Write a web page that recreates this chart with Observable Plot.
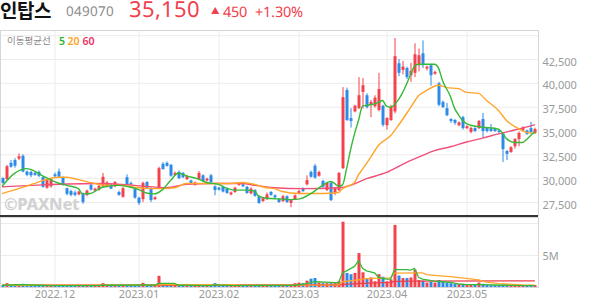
<!DOCTYPE html>
<html><head><meta charset="utf-8">
<script src="https://cdn.jsdelivr.net/npm/d3@7"></script>
<script src="https://cdn.jsdelivr.net/npm/@observablehq/plot@0.6"></script>
<style>
@font-face{font-family:"HdrSans";src:local("Noto Sans Regular"),local("NotoSans-Regular"),local("Noto Sans");ascent-override:78%;descent-override:22%;line-gap-override:0%;}
@font-face{font-family:"HdrKR";src:local("Noto Sans CJK KR Bold"),local("NotoSansCJKkr-Bold"),local("Noto Sans CJK KR");font-weight:700;ascent-override:88%;descent-override:12%;line-gap-override:0%;}
body{margin:0;background:#fff;font-family:"Noto Sans","Noto Sans CJK KR",sans-serif;}
#wrap{position:relative;width:594px;height:304px;overflow:hidden;background:#fff;}
.a{position:absolute;white-space:nowrap;line-height:1;}
.h{font-family:"HdrSans","Noto Sans",sans-serif;}
</style></head><body>
<div id="wrap">
  <div class="a" style="left:0;top:1.1px;font-size:19px;font-weight:700;color:#111;font-family:'HdrKR','Noto Sans CJK KR';">인탑스</div>
  <div class="a h" style="left:66px;top:6.2px;font-size:13.5px;color:#8c8c8c;">049070</div>
  <div class="a h" style="left:129px;top:0.2px;font-size:22px;color:#f0424c;">35,150</div>
  <div class="a" style="left:211px;top:7px;font-size:8.5px;color:#f0424c;">▲</div>
  <div class="a h" style="left:223px;top:5.7px;font-size:14.5px;color:#f0424c;">450</div>
  <div class="a h" style="left:255px;top:5.7px;font-size:14.5px;color:#f0424c;">+1.30%</div>
  <div id="price" style="position:absolute;left:0;top:30px;"></div>
  <div id="vol" style="position:absolute;left:0;top:217px;"></div>
  <div style="position:absolute;left:0;top:215px;width:538px;height:2px;background:#333;"></div>
  <div class="a" style="left:7px;top:36px;font-size:9.5px;color:#888;font-family:'Noto Sans CJK KR';">이동평균선</div>
  <div class="a" style="left:59px;top:35.5px;font-size:10.5px;font-weight:600;color:#2fb52f;">5</div>
  <div class="a" style="left:67.5px;top:35.5px;font-size:10.5px;font-weight:600;color:#ffa224;">20</div>
  <div class="a" style="left:82.5px;top:35.5px;font-size:10.5px;font-weight:600;color:#ee2f62;">60</div>
  <div class="a" style="left:4px;top:196px;font-size:16.5px;font-weight:800;color:#d2d2d2;letter-spacing:-0.3px;">©PAXNet</div>
</div>
<script>
// ---- trading days (KRX), by month ----
const monthKeys = ["2022-11","2022-12","2023-01","2023-02","2023-03","2023-04","2023-05"];
const nov22 = [14,15,16,17,18,21,22,23,24,25,28,29,30];
const dec22 = [1,2,5,6,7,8,9,12,13,14,15,16,19,20,21,22,23,26,27,28,29];
const jan23 = [2,3,4,5,6,9,10,11,12,13,16,17,18,19,20,25,26,27,30,31];
const feb23 = [1,2,3,6,7,8,9,10,13,14,15,16,17,20,21,22,23,24,27,28];
const mar23 = [2,3,6,7,8,9,10,13,14,15,16,17,20,21,22,23,24,27,28,29,30,31];
const apr23 = [3,4,5,6,7,10,11,12,13,14,17,18,19,20,21,24,25,26,27,28];
const may23 = [2,3,4,8,9,10,11,12,15,16,17,18,19,22,23,24,25,26];
const monthLabels = ["2022.12","2023.01","2023.02","2023.03","2023.04","2023.05"];

// ---- OHLC (KRW) ----
const open = [30000,29900,31600,31900,32050,32350,30700,30650,30550,30650,
30100,29000,29150,30400,30700,30100,28950,28650,28500,28300,
28400,28250,29300,28700,28800,29150,29150,29350,29150,28550,
28050,30100,29500,28850,27950,27800,29600,28950,27800,29050,
31500,31600,31400,30350,30650,30550,29900,29750,29300,29900,
30300,29750,30300,29150,29000,29100,28900,28300,28550,29300,
29350,29100,28400,28750,28100,27600,27800,28550,28200,27800,
27600,28100,27400,27800,28450,28950,29350,30650,31300,30250,
29700,28750,29500,28450,28750,31050,39250,36300,37000,37350,
39050,38700,37700,37550,37150,37600,35550,36100,37000,42050,
41350,41550,40800,41050,41850,43100,41500,41850,40950,39950,
38000,37350,36200,36100,35550,36400,35250,34850,35250,35250,
36200,35250,35200,35150,35000,34700,32850,32750,33350,34100,
35050,35000,35250,34750];
const high = [30100,31400,31900,32100,32600,32500,30800,30800,30700,30800,
30200,29900,30000,30600,31000,30200,29000,28800,28700,28700,
28500,28800,29400,29000,29300,30550,29700,29450,29700,28700,
29100,30400,29650,28950,28050,29650,29700,29050,28100,31200,
31700,31750,31500,30700,30800,30650,30350,29850,29650,30750,
30400,30050,30450,29250,29100,29200,29000,28600,29100,29600,
29450,29200,29050,28850,28200,28000,28500,28650,28300,27900,
28250,28200,27800,28300,28800,29050,30300,30800,31500,30800,
29850,29600,29600,29050,30650,39550,39500,37350,37700,40600,
40500,38900,38200,38700,41050,37700,36400,37700,44700,42500,
42300,41700,42100,44150,43600,44450,41800,42000,41300,40100,
38150,37900,36300,36200,35950,36550,35550,35400,35350,36100,
36850,35350,35700,35300,35150,34800,32950,33350,34200,34900,
35450,35100,35900,35300];
const low = [29400,29800,31100,31100,31900,30600,30200,30100,30250,30100,
29000,28900,29000,30100,30100,29200,28200,28100,28100,28200,
27300,28100,28700,28600,28700,29050,29050,28850,29050,28150,
27950,29250,29300,27850,27200,27500,28850,27500,27700,28900,
30900,31200,30150,30250,29900,30000,29800,29350,29200,29800,
29600,29650,29500,28200,28700,28500,28350,28200,28450,29200,
29050,28350,28300,28050,27300,27500,27700,28150,27900,27400,
27500,27400,26950,27700,28350,28550,29250,30050,29950,30150,
29000,28650,27600,28200,28650,30950,36000,35300,36900,37250,
37300,37300,36400,37400,37000,35400,35100,36000,36800,40700,
40900,40400,40100,40600,41200,41550,41300,39700,40850,37550,
37350,36500,35800,35600,35450,35100,35150,34700,34850,35150,
34250,34800,34850,34850,34700,31700,31900,32650,33100,33350,
34900,34550,34700,34650];
const close = [29500,31250,31200,31300,32300,30700,30350,30300,30350,30250,
29100,29800,29900,30200,30150,29300,28350,28250,28250,28600,
27500,28700,28800,28900,29200,30150,29550,28900,29600,28250,
28950,29350,29400,27950,27400,29500,28950,27700,28000,31050,
30950,31300,30250,30550,30000,30100,30200,29450,29550,30550,
29700,29950,29600,28750,28800,28600,28450,28500,29000,29500,
29150,28450,28900,28150,27400,27900,28300,28250,28000,27500,
28100,27500,27700,28200,28650,28650,29800,30150,30050,30650,
29100,29500,27700,28950,30550,38500,36100,36000,37600,38700,
39750,37450,38000,38450,39350,35600,36300,37500,42800,41050,
41700,40600,41250,43000,42900,41850,41700,40800,41150,37700,
37450,36600,36000,35800,35850,35250,35450,35250,34950,36000,
34950,34950,34950,34950,34850,33050,32550,33250,34100,34750,
35300,34650,34850,35150];
// ---- volume (millions of shares) ----
const volume = [0.30,0.60,0.35,0.45,0.45,0.50,0.30,0.28,0.30,0.30,
0.35,0.30,0.30,0.25,0.30,0.28,0.30,0.25,0.25,0.28,
0.30,0.28,0.25,0.25,0.28,0.60,0.30,0.25,0.28,0.25,
0.30,0.35,0.25,0.30,0.30,0.65,0.30,0.35,0.28,1.75,
0.50,0.40,0.35,0.30,0.28,0.30,0.28,0.25,0.25,0.30,
0.28,0.25,0.28,0.60,0.30,0.28,0.30,0.28,0.30,0.30,
0.25,0.28,0.28,0.30,0.35,0.28,0.28,0.25,0.25,0.30,
0.28,0.30,0.30,0.60,0.70,0.60,1.00,1.30,1.40,0.70,
0.60,0.60,0.60,0.60,0.90,10.2,2.20,2.00,2.20,5.30,
2.30,1.30,1.50,0.90,2.00,1.60,0.90,1.20,9.70,1.80,
1.40,1.40,1.50,2.70,1.10,1.00,0.70,0.80,0.70,1.10,
0.80,0.70,0.60,0.50,0.50,0.50,0.40,0.40,0.35,0.70,
0.50,0.35,0.30,0.30,0.30,0.40,0.35,0.30,0.35,0.30,
0.30,0.28,0.30,0.30];

// ---- moving averages: [day index, value] ----
const ma5 = [[0,29250],[3,30550],[6,31050],[8,30800],[10,30300],[12,29900],[13,29700],[16,29300],[19,28950],[20,28400],[22,28450],[25,29100],[29,29300],[32,29100],[34,28850],[36,28500],[38,28400],[40,28850],[42,29800],[44,30600],[46,30300],[49,29950],[51,29600],[54,29400],[56,29000],[58,28800],[61,28800],[63,28700],[64,28200],[66,27950],[68,27900],[70,27850],[72,27800],[74,27850],[77,28400],[80,29300],[82,29700],[83,29500],[84,29200],[85,29350],[86,31000],[87,33000],[88,34700],[89,36100],[90,37600],[91,37700],[92,37750],[94,38000],[95,38200],[96,37600],[97,37500],[99,38300],[100,39000],[101,39900],[102,40900],[103,41800],[104,42000],[108,42000],[109,41600],[110,40300],[112,38600],[113,37400],[114,36700],[115,36100],[117,35600],[120,35400],[124,35200],[125,34800],[126,34200],[128,33800],[130,33800],[131,34100],[132,34500],[133,34900]];
const ma20 = [[0,28450],[4,28950],[8,29500],[10,29800],[14,30150],[16,30150],[19,29900],[23,29500],[26,29300],[30,29300],[34,29050],[39,28950],[43,29050],[46,29500],[53,29500],[57,29500],[60,29600],[63,29400],[66,29050],[68,28950],[70,28650],[74,28450],[80,28450],[84,28550],[85,28950],[88,29600],[89,30400],[90,31000],[92,32200],[94,33500],[97,34500],[99,35600],[102,37450],[104,38700],[106,39250],[109,39800],[111,39550],[114,39450],[116,39050],[119,38950],[121,38200],[124,37150],[126,36100],[129,35250],[131,34850],[133,34750]];
const ma60 = [[0,29150],[10,29350],[24,29500],[33,29300],[41,29050],[46,29400],[53,29500],[60,29500],[63,29300],[68,29050],[75,28950],[84,29050],[87,29300],[91,30000],[96,30650],[100,31500],[104,32250],[108,32950],[112,33350],[116,33850],[120,34250],[124,34700],[128,35100],[133,35650]];
const vma5 = [[0,0.35],[5,0.45],[9,0.35],[12,0.3],[24,0.3],[25,0.35],[30,0.35],[35,0.4],[38,0.35],[39,0.65],[43,0.65],[44,0.35],[52,0.3],[53,0.4],[58,0.3],[73,0.35],[76,0.6],[78,0.9],[82,0.8],[84,0.7],[85,2.3],[86,2.6],[88,3.3],[89,4.2],[90,3.0],[91,2.6],[93,2.3],[94,1.6],[96,1.3],[97,1.3],[98,2.8],[99,2.8],[101,2.8],[102,2.7],[103,3.0],[104,1.6],[105,1.3],[108,1.0],[110,0.9],[112,0.8],[114,0.55],[116,0.45],[120,0.45],[125,0.35],[133,0.3]];
const vma20 = [[0,0.35],[20,0.35],[39,0.4],[40,0.45],[58,0.45],[59,0.35],[84,0.4],[85,0.9],[89,1.2],[90,1.35],[94,1.45],[97,1.5],[98,2.25],[105,2.3],[106,2.0],[108,1.9],[112,1.7],[117,1.35],[119,1.2],[121,0.85],[124,0.6],[130,0.4],[133,0.35]];
const vma60 = [[0,0.35],[84,0.4],[85,0.5],[90,0.65],[97,0.8],[98,0.95],[103,1.0],[133,1.05]];

const priceTicks = [27500,30000,32500,35000,37500,40000,42500];
const priceGrid = [27500,30000,32500,35000,37500,40000,42500,45000];
const volTicks = [5];
const volGrid = [5,10];

const UP = "#f2434d", DOWN = "#2d8ae8";
const C5 = "#36b936", C20 = "#ffa52a", C60 = "#f24f78", CV60 = "#ee3f4a";
const GRID = "#ececec", FRAME = "#d6d6d6", LABEL = "#9a9a9a";

const tradingDays = [nov22, dec22, jan23, feb23, mar23, apr23, may23];
const dates = tradingDays.flatMap((days, m) => days.map(d => monthKeys[m] + "-" + String(d).padStart(2, "0")));
const N = dates.length;
const monthStarts = monthKeys.slice(1).map(k => dates.findIndex(d => d.startsWith(k)));
const candles = dates.map((date, i) => ({i, date, o: open[i], h: high[i], l: low[i], c: close[i], v: volume[i], col: close[i] >= open[i] ? UP : DOWN}));
const pts = a => a.map(([i, v]) => ({i, v}));

const font = '"Noto Sans", "Noto Sans CJK KR", sans-serif';

const price = Plot.plot({
  width: 594, height: 185,
  marginLeft: 0, marginRight: 56, marginTop: 0, marginBottom: 0,
  style: {fontFamily: font, fontSize: "11px", background: "transparent", overflow: "visible"},
  x: {domain: [-0.5, N], axis: null},
  y: {domain: [26136, 45542], axis: null},
  color: {type: "identity"},
  marks: [
    Plot.gridY(priceGrid, {stroke: GRID, strokeOpacity: 1}),
    Plot.gridX(monthStarts, {stroke: GRID, strokeOpacity: 1, dx: 0.5}),
    Plot.axisY(priceTicks, {anchor: "right", label: null, tickSize: 0, tickPadding: 4, dy: 2.5, fill: LABEL, fontSize: 11, tickFormat: d3.format(",")}),
    Plot.frame({stroke: FRAME}),
    Plot.ruleX(candles, {x: "i", y1: "l", y2: "h", stroke: "col", strokeWidth: 1, dx: 0.5}),
    Plot.ruleX(candles, {x: "i", y1: "o", y2: "c", stroke: "col", strokeWidth: 3, dx: 0.5}),
    Plot.line(pts(ma60), {x: "i", y: "v", stroke: C60, strokeWidth: 1.4, curve: "monotone-x"}),
    Plot.line(pts(ma20), {x: "i", y: "v", stroke: C20, strokeWidth: 1.4, curve: "monotone-x"}),
    Plot.line(pts(ma5), {x: "i", y: "v", stroke: C5, strokeWidth: 1.4, curve: "monotone-x"})
  ]
});
document.getElementById("price").append(price);

const vol = Plot.plot({
  width: 594, height: 87,
  marginLeft: 0, marginRight: 56, marginTop: 0, marginBottom: 17,
  style: {fontFamily: font, fontSize: "11px", background: "transparent", overflow: "visible"},
  x: {domain: [-0.5, N], axis: null},
  y: {domain: [0, 10.94], axis: null},
  color: {type: "identity"},
  marks: [
    Plot.gridY(volGrid, {stroke: GRID, strokeOpacity: 1}),
    Plot.gridX(monthStarts, {stroke: GRID, strokeOpacity: 1, dx: 0.5}),
    Plot.axisY(volTicks, {anchor: "right", label: null, tickSize: 0, tickPadding: 4, dy: 1, fill: LABEL, fontSize: 11, tickFormat: d => d + "M"}),
    Plot.axisX(monthStarts, {anchor: "bottom", label: null, tickSize: 0, tickPadding: 3, fill: LABEL, fontSize: 11, dx: 0.5, tickFormat: i => monthLabels[monthStarts.indexOf(i)]}),
    Plot.frame({stroke: FRAME}),
    Plot.ruleX(candles, {x: "i", y1: 0, y2: "v", stroke: "col", strokeWidth: 3, dx: 0.5}),
    Plot.line(pts(vma60), {x: "i", y: "v", stroke: CV60, strokeWidth: 1.3}),
    Plot.line(pts(vma20), {x: "i", y: "v", stroke: C20, strokeWidth: 1.3}),
    Plot.line(pts(vma5), {x: "i", y: "v", stroke: C5, strokeWidth: 1.3})
  ]
});
document.getElementById("vol").append(vol);
</script>
</body></html>
